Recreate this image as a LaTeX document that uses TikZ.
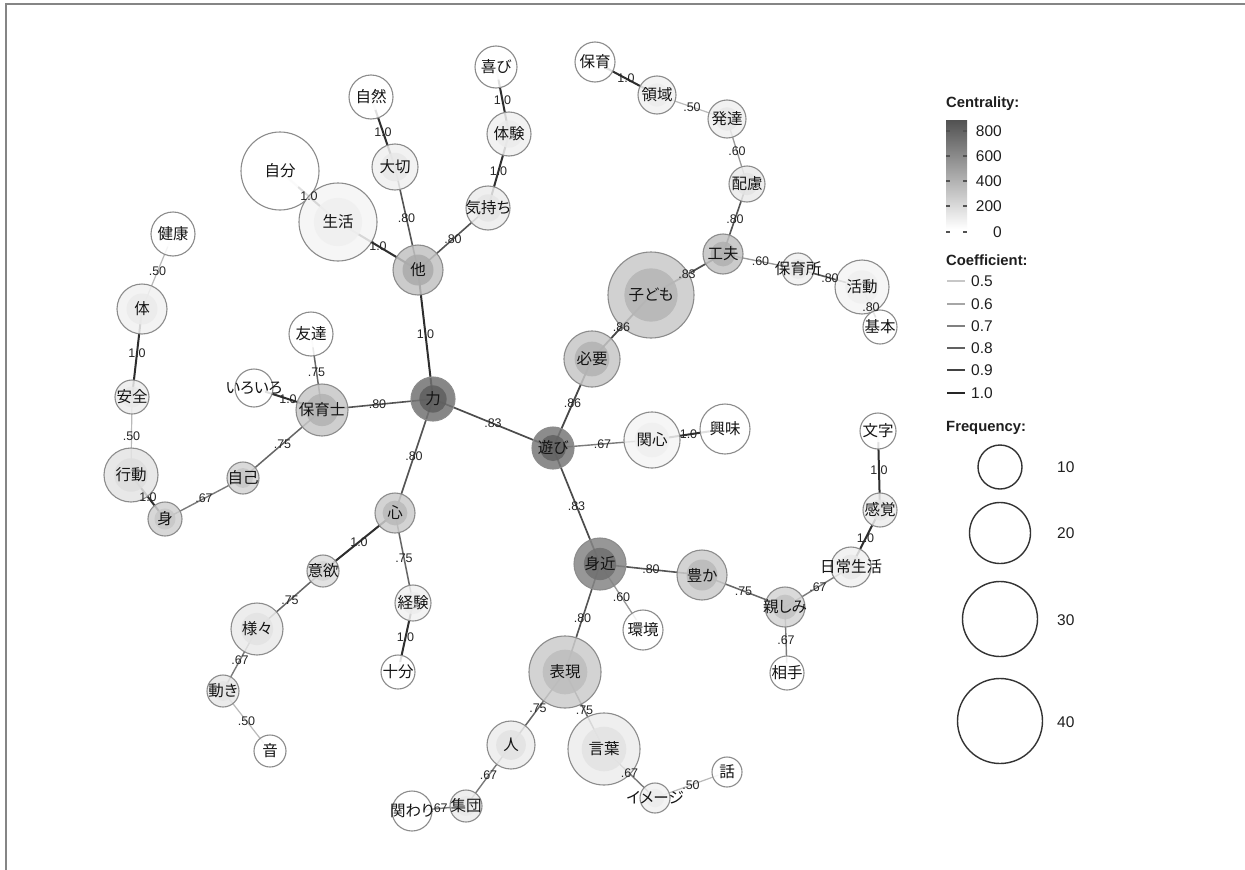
\documentclass[tikz,border=0pt]{standalone}
\usepackage{fontspec}
\setmainfont{Liberation Sans}
\newfontfamily\jp[RawFeature=+palt]{Noto Sans CJK JP}
\pgfdeclarelayer{bglayer}
\pgfdeclarelayer{edgelayer}
\pgfdeclarelayer{fg}
\pgfsetlayers{bglayer,edgelayer,main,fg}
\tikzset{
  bub/.style={circle, draw=black!45, line width=1.1pt, inner sep=0pt, fill opacity=0.85},
  ntext/.style={font=\jp\fontsize{15.5}{16}\selectfont, inner sep=0pt, text=black!92},
  elab/.style={font=\fontsize{12.5}{13}\selectfont, inner sep=0pt, text=black!85},
  c100/.style={draw=black!82, line width=2pt},
  c90/.style={draw=black!76, line width=1.9pt},
  c86/.style={draw=black!72, line width=1.8pt},
  c83/.style={draw=black!70, line width=1.7pt},
  c80/.style={draw=black!67, line width=1.6pt},
  c75/.style={draw=black!60, line width=1.5pt},
  c67/.style={draw=black!52, line width=1.4pt},
  c60/.style={draw=black!40, line width=1.3pt},
  c50/.style={draw=black!27, line width=1.2pt},
  frame/.style={draw=black!48, line width=2pt},
  legtitle/.style={font=\bfseries\fontsize{14.8}{15}\selectfont, inner sep=0pt, anchor=west, text=black!88},
  leglab/.style={font=\fontsize{15.5}{16}\selectfont, inner sep=0pt, text=black!88},
  freqc/.style={circle, draw=black!80, line width=1.4pt, inner sep=0pt},
  tick/.style={draw=black!68, line width=1.2pt}
}
\newcommand\nd[7]{%
  \node[bub, minimum size=2*#4pt, fill=black!#5,
    path picture={\fill[black!#6, fill opacity=0.85] (path picture bounding box.center) circle (0.62*#4pt);}]
    (#1) at (#2,-#3) {};
  \begin{pgfonlayer}{fg}\node[ntext] at (#1.center) {#7};\end{pgfonlayer}%
}
\newcommand\edge[4]{%
  \begin{pgfonlayer}{edgelayer}\draw[#3] (#1.center) -- (#2.center);\end{pgfonlayer}%
  \begin{pgfonlayer}{fg}\path (#1.center) -- (#2.center) node[elab, midway] {#4};\end{pgfonlayer}%
}
\begin{document}
\begin{tikzpicture}[x=1pt, y=1pt]
\useasboundingbox (0,0) rectangle (1245,-870);
\begin{pgfonlayer}{bglayer}
\fill[white] (0,0) rectangle (1245,-870);
\end{pgfonlayer}
\draw[frame] (6,-870) -- (6,-4) -- (1245,-4);

% nodes
\nd{shizen}{371}{97}{22}{0}{0}{自然}
\nd{taisetsu}{395}{167}{23}{6}{9}{大切}
\nd{jibun}{280}{171}{39}{0}{0}{自分}
\nd{seikatsu}{338}{222}{39}{4}{6}{生活}
\nd{hoka}{418}{270}{25}{24}{33}{他}
\nd{kenko}{173}{234}{22}{0}{0}{健康}
\nd{yorokobi}{496}{67}{21}{0}{0}{喜び}
\nd{taiken}{509}{134}{22}{6}{8}{体験}
\nd{kimochi}{488}{208}{22}{7}{10}{気持ち}
\nd{hoiku}{595}{62}{20}{0}{0}{保育}
\nd{ryoiki}{657}{95}{19}{5}{7}{領域}
\nd{hattatsu}{727}{119}{19}{6}{9}{発達}
\nd{hairyo}{747}{184}{18}{8}{11}{配慮}
\nd{kufu}{723}{254}{20}{24}{31}{工夫}
\nd{hoikusho}{798}{269}{16}{6}{9}{保育所}
\nd{katsudo}{862}{287}{27}{4}{6}{活動}
\nd{kihon}{880}{327}{17}{0}{0}{基本}
\nd{kodomo}{651}{295}{43}{21}{29}{子ども}
\nd{hitsuyo}{592}{359}{28}{22}{30}{必要}
\nd{asobi}{553}{448}{21}{53}{62}{遊び}
\nd{kanshin}{652}{440}{28}{4}{6}{関心}
\nd{kyomi}{725}{429}{25}{0}{0}{興味}
\nd{moji}{878}{431}{18}{0}{0}{文字}
\nd{kankaku}{880}{510}{17}{7}{10}{感覚}
\nd{nichijo}{851}{567}{20}{6}{9}{日常生活}
\nd{chikara}{433}{399}{22}{55}{63}{力}
\nd{tomodachi}{311}{334}{22}{0}{0}{友達}
\nd{iroiro}{254}{388}{19}{0}{0}{いろいろ}
\nd{hoikushi}{322}{410}{26}{22}{30}{保育士}
\nd{karada}{142}{309}{25}{5}{8}{体}
\nd{anzen}{132}{397}{17}{7}{9}{安全}
\nd{kodo}{131}{475}{27}{10}{13}{行動}
\nd{mi}{165}{519}{17}{18}{22}{身}
\nd{jiko}{243}{478}{16}{17}{22}{自己}
\nd{kokoro}{395}{513}{20}{20}{27}{心}
\nd{iyoku}{323}{571}{16}{13}{17}{意欲}
\nd{keiken}{413}{603}{18}{5}{7}{経験}
\nd{jubun}{398}{672}{17}{0}{0}{十分}
\nd{samazama}{257}{629}{26}{8}{11}{様々}
\nd{ugoki}{223}{691}{16}{9}{11}{動き}
\nd{oto}{270}{751}{16}{0}{0}{音}
\nd{hito}{511}{745}{24}{7}{11}{人}
\nd{mijika}{600}{564}{26}{48}{56}{身近}
\nd{yutaka}{702}{575}{25}{20}{27}{豊か}
\nd{kankyo}{643}{630}{20}{0}{0}{環境}
\nd{hyogen}{565}{672}{36}{20}{26}{表現}
\nd{kotoba}{604}{749}{36}{7}{11}{言葉}
\nd{kakawari}{412}{811}{20}{0}{0}{関わり}
\nd{shudan}{466}{806}{16}{7}{9}{集団}
\nd{imeji}{655}{798}{15}{5}{7}{イメージ}
\nd{hanashi}{727}{772}{15}{0}{0}{話}
\nd{shitashimi}{785}{607}{20}{17}{24}{親しみ}
\nd{aite}{787}{673}{17}{0}{0}{相手}

% edges
\edge{shizen}{taisetsu}{c100}{1.0}
\edge{jibun}{seikatsu}{c100}{1.0}
\edge{seikatsu}{hoka}{c100}{1.0}
\edge{taisetsu}{hoka}{c80}{.80}
\edge{kimochi}{hoka}{c80}{.80}
\edge{yorokobi}{taiken}{c100}{1.0}
\edge{taiken}{kimochi}{c100}{1.0}
\edge{hoka}{chikara}{c100}{1.0}
\edge{hoiku}{ryoiki}{c100}{1.0}
\edge{ryoiki}{hattatsu}{c50}{.50}
\edge{hattatsu}{hairyo}{c60}{.60}
\edge{hairyo}{kufu}{c80}{.80}
\edge{kufu}{kodomo}{c83}{.83}
\edge{kufu}{hoikusho}{c60}{.60}
\edge{hoikusho}{katsudo}{c80}{.80}
\edge{katsudo}{kihon}{c80}{.80}
\edge{kodomo}{hitsuyo}{c86}{.86}
\edge{hitsuyo}{asobi}{c86}{.86}
\edge{chikara}{asobi}{c83}{.83}
\edge{asobi}{kanshin}{c67}{.67}
\edge{kanshin}{kyomi}{c100}{1.0}
\edge{asobi}{mijika}{c83}{.83}
\edge{moji}{kankaku}{c100}{1.0}
\edge{kankaku}{nichijo}{c100}{1.0}
\edge{nichijo}{shitashimi}{c67}{.67}
\edge{yutaka}{shitashimi}{c75}{.75}
\edge{shitashimi}{aite}{c67}{.67}
\edge{mijika}{yutaka}{c80}{.80}
\edge{mijika}{kankyo}{c60}{.60}
\edge{mijika}{hyogen}{c80}{.80}
\edge{hyogen}{hito}{c75}{.75}
\edge{hyogen}{kotoba}{c75}{.75}
\edge{hito}{shudan}{c67}{.67}
\edge{shudan}{kakawari}{c67}{.67}
\edge{kotoba}{imeji}{c67}{.67}
\edge{imeji}{hanashi}{c50}{.50}
\edge{chikara}{hoikushi}{c80}{.80}
\edge{hoikushi}{tomodachi}{c75}{.75}
\edge{hoikushi}{iroiro}{c100}{1.0}
\edge{hoikushi}{jiko}{c75}{.75}
\edge{jiko}{mi}{c67}{.67}
\edge{mi}{kodo}{c100}{1.0}
\edge{kodo}{anzen}{c50}{.50}
\edge{anzen}{karada}{c100}{1.0}
\edge{karada}{kenko}{c50}{.50}
\edge{chikara}{kokoro}{c80}{.80}
\edge{kokoro}{iyoku}{c100}{1.0}
\edge{kokoro}{keiken}{c75}{.75}
\edge{keiken}{jubun}{c100}{1.0}
\edge{iyoku}{samazama}{c75}{.75}
\edge{samazama}{ugoki}{c67}{.67}
\edge{ugoki}{oto}{c50}{.50}

% legend: centrality
\node[legtitle] (tcent) at (946,-104) {Centrality:};
\shade[top color=black!68, bottom color=white] (946,-120) rectangle (967,-229);
\foreach \yy/\lab in {131/800,156/600,181/400,206/200,232/0}{
  \draw[tick] (946,-\yy) -- (950,-\yy);
  \draw[tick] (963,-\yy) -- (967,-\yy);
  \node[leglab, anchor=east] at (1002,-\yy) {\lab};
}
% legend: coefficient
\node[legtitle] (tcoef) at (946,-260) {Coefficient:};
\foreach \yy/\lab/\col/\lw in {281/0.5/22/1.3,304/0.6/35/1.6,326/0.7/50/1.9,348/0.8/62/2.2,370/0.9/74/2.5,393/1.0/85/2.8}{
  \draw[draw=black!\col, line width=\lw pt] (947,-\yy) -- (965,-\yy);
  \node[leglab, anchor=west] at (971,-\yy) {\lab};
}
% legend: frequency
\node[legtitle] (tfreq) at (946,-428) {Frequency:};
\node[freqc, minimum size=44pt] (f10) at (1000,-467) {};
\node[freqc, minimum size=61pt] (f20) at (1000,-533) {};
\node[freqc, minimum size=75pt] (f30) at (1000,-619) {};
\node[freqc, minimum size=85pt] (f40) at (1000,-721) {};
\node[leglab, anchor=west] at (1057,-467) {10};
\node[leglab, anchor=west] at (1057,-533) {20};
\node[leglab, anchor=west] at (1057,-620) {30};
\node[leglab, anchor=west] at (1057,-722) {40};
\end{tikzpicture}
\end{document}
